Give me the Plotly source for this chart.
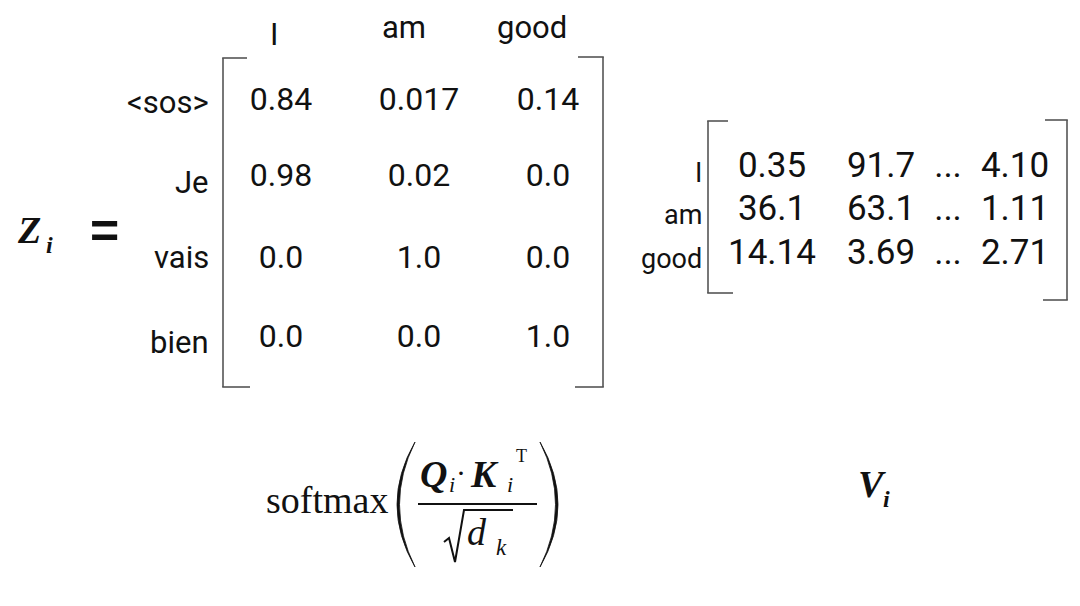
import plotly.graph_objects as go

# ---------------- data ----------------
z_col_labels = ["I", "am", "good"]
z_row_labels = ["<sos>", "Je", "vais", "bien"]
z_values = [
    ["0.84", "0.017", "0.14"],
    ["0.98", "0.02", "0.0"],
    ["0.0", "1.0", "0.0"],
    ["0.0", "0.0", "1.0"],
]

v_row_labels = ["I", "am", "good"]
v_values = [
    ["0.35", "91.7", "...", "4.10"],
    ["36.1", "63.1", "...", "1.11"],
    ["14.14", "3.69", "...", "2.71"],
]

# ---------------- layout positions (pixel space) ----------------
z_col_x = [281, 419, 548]
z_header_x = [274, 404, 532]
z_header_y = [34, 27, 27]
z_row_y = [102, 178, 260, 339]
z_label_y = [102, 182, 257, 342]
z_label_right = 211

v_col_x = [772, 881, 948, 1015]
v_row_y = [168.5, 211, 255.5]
v_label_y = [173, 215, 259]
v_label_right = 704

SANS = "Roboto"
SERIF = "Liberation Serif"
INK = "#111111"
LINE = "#555555"

fig = go.Figure()

# matrix values as text marks
zx, zy, zt = [], [], []
for r, row in enumerate(z_values):
    for c, val in enumerate(row):
        zx.append(z_col_x[c]); zy.append(z_row_y[r]); zt.append(val)
fig.add_trace(go.Scatter(x=zx, y=zy, text=zt, mode="text",
                         textposition="middle center",
                         textfont=dict(family=SANS, size=32, color=INK),
                         hoverinfo="skip", showlegend=False))

vx, vy, vt = [], [], []
for r, row in enumerate(v_values):
    for c, val in enumerate(row):
        vx.append(v_col_x[c]); vy.append(v_row_y[r]); vt.append(val)
fig.add_trace(go.Scatter(x=vx, y=vy, text=vt, mode="text",
                         textposition="middle center",
                         textfont=dict(family=SANS, size=35, color=INK),
                         hoverinfo="skip", showlegend=False))

ann = []
def A(x, y, text, size, family=SANS, xanchor="center", yanchor="middle", color=INK):
    ann.append(dict(x=x, y=y, xref="x", yref="y", text=text, showarrow=False,
                    xanchor=xanchor, yanchor=yanchor,
                    font=dict(family=family, size=size, color=color)))

for lab, x, y in zip(z_col_labels, z_header_x, z_header_y):
    A(x, y, lab, 31)
for lab, y in zip(z_row_labels, z_label_y):
    A(z_label_right, y, lab, 31, xanchor="right")
for lab, y in zip(v_row_labels, v_label_y):
    A(v_label_right, y, lab, 27, xanchor="right")

# Z_i =
A(15, 230, "<b><i>Z</i></b>", 38, family=SERIF, xanchor="left")
A(44, 245, "<b><i>i</i></b>", 24, family=SERIF, xanchor="left")
A(104.5, 230.5, "<b>=</b>", 50, family="Liberation Sans")

# softmax( Q_i . K_i^T / sqrt(d_k) )
A(264, 500, "softmax", 38, family=SERIF, xanchor="left")
A(433, 474, "<b><i>Q</i></b>", 38, family=SERIF)
A(451.5, 484.6, "<i>i</i>", 22, family=SERIF)
A(461, 472, "·", 30, family=SERIF)
A(484, 474, "<b><i>K</i></b>", 38, family=SERIF)
A(510, 484.6, "<i>i</i>", 22, family=SERIF)
A(521, 456, "T", 18, family=SERIF)
A(477, 532, "<i>d</i>", 38, family=SERIF)
A(501, 547, "<i>k</i>", 23, family=SERIF)

# V_i
A(872, 484, "<b><i>V</i></b>", 38, family=SERIF)
A(886, 499, "<b><i>i</i></b>", 24, family=SERIF)

shapes = []
def L(x0, y0, x1, y1, w=1.6, color=LINE):
    shapes.append(dict(type="line", xref="x", yref="y", x0=x0, y0=y0, x1=x1, y1=y1,
                       line=dict(color=color, width=w)))

# Z matrix brackets
L(223, 58, 223, 387); L(222.2, 58, 247, 58); L(222.2, 387, 250, 387)
L(603, 57, 603, 387); L(578, 57, 603.8, 57); L(575, 387, 603.8, 387)
# V matrix brackets
L(708, 121, 708, 293); L(707.2, 121, 728, 121); L(707.2, 293, 733, 293)
L(1067, 120, 1067, 300); L(1045, 120, 1067.8, 120); L(1043, 300, 1067.8, 300)

# fraction bar
L(418, 504, 537, 504, w=2, color=INK)
# radical
shapes.append(dict(type="path", xref="x", yref="y",
                   path="M 444 542 L 449 538 L 455 562 L 464 510 L 513 510",
                   line=dict(color=INK, width=2)))
# large parentheses
shapes.append(dict(type="path", xref="x", yref="y",
                   path="M 415 442 Q 379 504.5 415 567 Q 384 504.5 415 442 Z",
                   fillcolor=INK, line=dict(color=INK, width=0.8)))
shapes.append(dict(type="path", xref="x", yref="y",
                   path="M 540 442 Q 576 504.5 540 567 Q 571 504.5 540 442 Z",
                   fillcolor=INK, line=dict(color=INK, width=0.8)))

fig.update_layout(
    width=1080, height=606,
    margin=dict(l=0, r=0, t=0, b=0),
    paper_bgcolor="white", plot_bgcolor="white",
    xaxis=dict(range=[0, 1080], visible=False, fixedrange=True),
    yaxis=dict(range=[606, 0], visible=False, fixedrange=True),
    annotations=ann, shapes=shapes,
)

fig.write_html("out.html", config={"displayModeBar": False},
               post_script="document.body.style.margin='0';document.body.style.overflow='hidden';")
